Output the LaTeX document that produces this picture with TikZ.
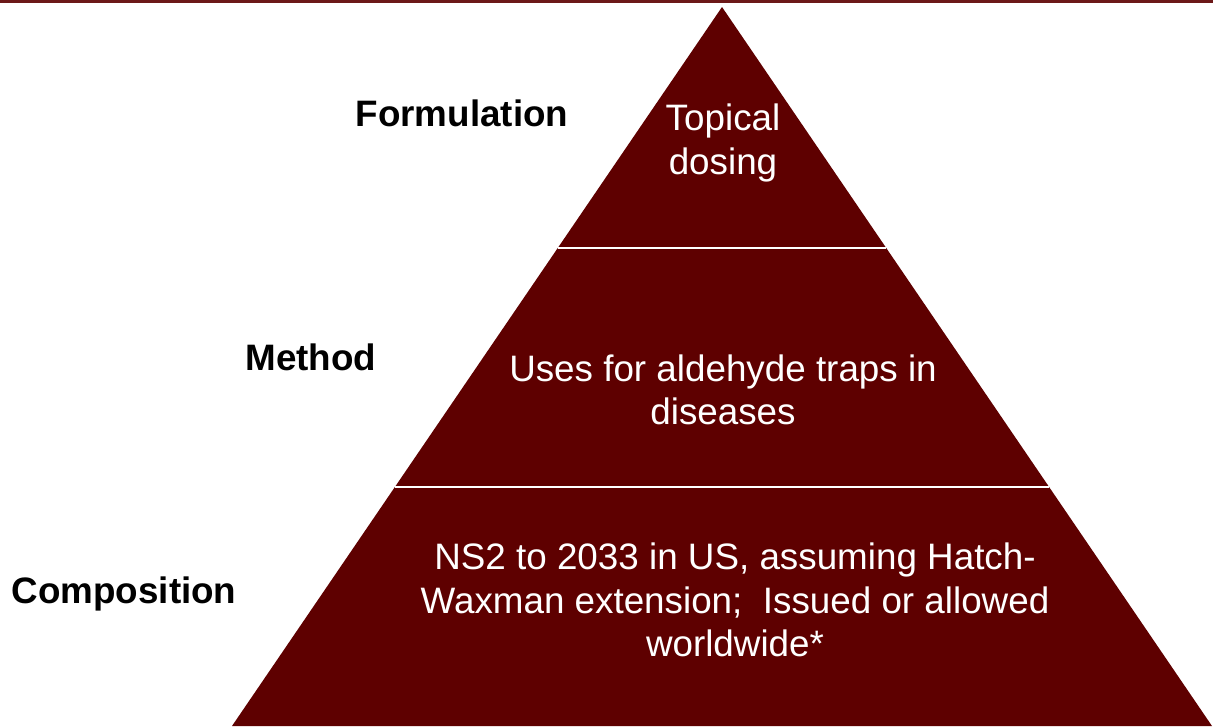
\documentclass[tikz,border=0pt]{standalone}
\usepackage{fontspec}
\setmainfont{Liberation Sans}
\usetikzlibrary{positioning,calc}
\definecolor{pyrred}{RGB}{94,0,0}
\definecolor{barred}{RGB}{108,24,24}
\tikzset{
	pyramid/.style={x=0.75pt,y=-0.75pt},
	tier/.style={fill=pyrred,draw=none},
	divider/.style={draw=white,line width=1.5pt},
	topbar/.style={draw=barred,line width=2.5pt},
	tiertext/.style={text=white,align=center,inner sep=0pt,
		font=\fontsize{27.6}{32.5}\selectfont},
	level/.style={text=black,inner sep=0pt,
		font=\fontsize{27.6}{32.5}\selectfont\bfseries}
}

\begin{document}
\begin{tikzpicture}[pyramid]
	\useasboundingbox (0,0) rectangle (1213,726);

	% bar along the top
	\coordinate (bar west) at (0,1.5);
	\coordinate (bar east) at (1213,1.5);
	\draw[topbar] (bar west) -- (bar east);

	% the pyramid
	\coordinate (apex) at (722,7);
	\coordinate (base west) at (232,726);
	\coordinate (base east) at (1212,726);
	\fill[tier] (apex) -- (base west) -- (base east) -- cycle;

	\coordinate (cut1 west) at ($(apex)!0.335!(base west)$);
	\coordinate (cut1 east) at ($(apex)!0.335!(base east)$);
	\coordinate (cut2 west) at ($(apex)!0.668!(base west)$);
	\coordinate (cut2 east) at ($(apex)!0.668!(base east)$);
	\draw[divider] (cut1 west) -- (cut1 east);
	\draw[divider] (cut2 west) -- (cut2 east);

	\node[tiertext] (formtext) at (723,143) {Topical\\dosing};
	\node[tiertext] (methtext) at (723,390) {Uses for aldehyde traps in\\diseases};
	\node[tiertext] (comptext) at (735,600)
		{NS2 to 2033 in US, assuming Hatch-\\Waxman extension;~~Issued or allowed\\worldwide*};

	\node[level] (form) at (462,113) {Formulation};
	\node[level] (meth) at (311,357) {Method};
	\node[level] (comp) at (124,594) {Composition};
\end{tikzpicture}
\end{document}
